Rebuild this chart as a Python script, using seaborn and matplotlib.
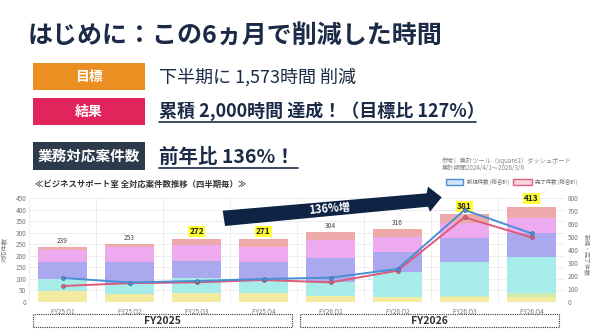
import matplotlib
matplotlib.use("Agg")
import matplotlib.pyplot as plt
import seaborn as sns
import numpy as np
import pandas as pd
from matplotlib.patches import Polygon, Rectangle

sns.set_theme(style="white")
plt.rcParams['font.family'] = ['Noto Sans CJK JP', 'DejaVu Sans']

# ---------------- data ----------------
quarters = ["FY25 Q1", "FY25 Q2", "FY25 Q3", "FY25 Q4",
            "FY26 Q1", "FY26 Q2", "FY26 Q3", "FY26 Q4"]
seg_yellow = [46, 35, 40, 40, 27, 23, 20, 23]
seg_green = [0, 0, 0, 0, 0, 0, 5, 14]
seg_cyan = [54, 41, 62, 55, 58, 108, 150, 159]
seg_purple = [72, 99, 77, 80, 105, 87, 103, 101]
seg_violet = [55, 65, 68, 65, 78, 65, 62, 68]
seg_salmon = [12, 13, 25, 31, 36, 33, 41, 48]
totals = [239, 253, 272, 271, 304, 316, 381, 413]
highlight = [False, False, True, True, False, False, True, True]
new_cases = [185, 150, 162, 177, 187, 254, 708, 528]
done_cases = [123, 145, 151, 169, 151, 241, 651, 497]
left_ticks = [0, 50, 100, 150, 200, 250, 300, 350, 400, 450]
right_ticks = [0, 100, 200, 300, 400, 500, 600, 700, 800]

layers = [("yellow", seg_yellow, "#f4eba3"),
          ("green", seg_green, "#cdeeb0"),
          ("cyan", seg_cyan, "#a8ece9"),
          ("purple", seg_purple, "#aaa8ee"),
          ("violet", seg_violet, "#eeaaee"),
          ("salmon", seg_salmon, "#eeaaaa")]

W, H = 590, 329
fig = plt.figure(figsize=(W / 100, H / 100), dpi=100)
fig.patch.set_facecolor("white")

def fx(x):
    return x / W

def fy(y):
    return 1 - y / H

NAVY = "#1b2b47"

# ---------------- header ----------------
fig.text(fx(28), fy(36), "はじめに：この6ヵ月で削減した時間", fontsize=18,
         fontweight="bold", color=NAVY, va="center", ha="left")

def label_box(y0, y1, color, text, fs=10):
    fig.patches.append(Rectangle((fx(33), fy(y1)), fx(145) - fx(33), fy(y0) - fy(y1),
                                 transform=fig.transFigure, facecolor=color,
                                 edgecolor="none"))
    fig.text(fx(89), fy((y0 + y1) / 2), text, color="white", fontsize=fs,
             fontweight="bold", ha="center", va="center")

label_box(63, 90, "#ec8f22", "目標")
label_box(98, 125, "#e2245c", "結果")
label_box(142, 170, "#2d3a4b", "業務対応案件数", fs=10.5)

fig.text(fx(159), fy(77), "下半期に 1,573時間 削減", fontsize=13, color=NAVY,
         ha="left", va="center")
fig.text(fx(159), fy(111), "累積 2,000時間 達成！（目標比 127%）", fontsize=13,
         color=NAVY, fontweight="bold", ha="left", va="center")
fig.text(fx(159), fy(157), "前年比 136%！", fontsize=14, color=NAVY,
         fontweight="bold", ha="left", va="center")
# underlines
fig.add_artist(plt.Line2D([fx(159), fx(476)], [fy(122), fy(122)], color=NAVY, lw=1.2,
                          transform=fig.transFigure))
fig.add_artist(plt.Line2D([fx(159), fx(298)], [fy(168), fy(168)], color=NAVY, lw=1.2,
                          transform=fig.transFigure))

fig.text(fx(35), fy(184), "≪ビジネスサポート室 全対応案件数推移（四半期毎）≫", fontsize=6,
         color="#333333", fontweight="bold", ha="left", va="center")

fig.text(fx(442), fy(161), "参考）集計ツール（square2）ダッシュボード", fontsize=4.5,
         color="#888888", ha="left", va="center")
fig.text(fx(442), fy(168), "集計期間2024/4/1～2026/3/6", fontsize=4.5,
         color="#888888", ha="left", va="center")

# legend
fig.patches.append(Rectangle((fx(446), fy(184.5)), fx(17), 5.5 / H,
                             transform=fig.transFigure, facecolor="#d4e4f7",
                             edgecolor="#4a8fd6", lw=1))
fig.text(fx(467), fy(182), "新規件数 (総合計)", fontsize=3.9, color="#666666",
         ha="left", va="center")
fig.patches.append(Rectangle((fx(513), fy(184.5)), fx(19), 5.5 / H,
                             transform=fig.transFigure, facecolor="#f7d4de",
                             edgecolor="#e06080", lw=1))
fig.text(fx(535), fy(182), "完了件数 (総合計)", fontsize=3.9, color="#666666",
         ha="left", va="center")

# ---------------- chart ----------------
ax = fig.add_axes([fx(29), fy(302), fx(565) - fx(29), fy(198) - fy(302)])
ax.set_facecolor("white")

cum = np.zeros(len(quarters))
cums = []
for name, vals, col in layers:
    cum = cum + np.array(vals)
    cums.append((cum.copy(), col))
for c, col in reversed(cums):
    sns.barplot(x=quarters, y=c, color=col, width=0.72, ax=ax, saturation=1,
                edgecolor="none", linewidth=0, zorder=2)

ax.set_ylim(0, 450)
ax.set_xlim(-0.5, len(quarters) - 0.5)
ax.set_yticks(left_ticks)
ax.set_yticklabels([str(t) for t in left_ticks])
for t in left_ticks:
    ax.axhline(t, color="#ebebeb", lw=0.6, zorder=0)
for b in np.arange(-0.5, len(quarters), 1.0):
    ax.axvline(b, color="#ebebeb", lw=0.6, zorder=0)
for s in ax.spines.values():
    s.set_visible(False)
ax.tick_params(axis="both", length=0, labelsize=4.6, labelcolor="#777777", pad=2)
ax.tick_params(axis="x", pad=4)
ax.set_ylabel("対応件数", fontsize=4.5, color="#777777")
ax.yaxis.set_label_coords(-0.040, 0.5)
ax.set_xlabel("")

for i, (tot, hl) in enumerate(zip(totals, highlight)):
    if hl:
        ax.text(i, tot + 33, str(tot), ha="center", va="center", fontsize=6,
                fontweight="bold", color="#222222",
                bbox=dict(boxstyle="square,pad=0.12", facecolor="#ffff33",
                          edgecolor="none"), zorder=5)
    else:
        ax.text(i, tot + 26, str(tot), ha="center", va="center", fontsize=4.8,
                color="#444444", zorder=5)

ax2 = ax.twinx()
xs = np.arange(len(quarters))
sns.lineplot(x=xs, y=new_cases, ax=ax2, color="#4a8fd6", lw=1.4, marker="o",
             markersize=2.8, markeredgecolor="#4a6a90", markeredgewidth=0.5,
             sort=False, zorder=4)
sns.lineplot(x=xs, y=done_cases, ax=ax2, color="#dd5a78", lw=1.4, marker="o",
             markersize=2.8, markeredgecolor="#8a5a6a", markeredgewidth=0.5,
             sort=False, zorder=3)
ax2.set_ylim(0, 800)
ax2.set_yticks(right_ticks)
ax2.set_yticklabels([str(t) for t in right_ticks])
ax2.grid(False)
for s in ax2.spines.values():
    s.set_visible(False)
ax2.tick_params(axis="y", length=0, labelsize=4.6, labelcolor="#777777", pad=2)
ax2.set_ylabel("新規・完了件数", fontsize=4.3, color="#777777", rotation=270,
               va="center")
ax2.yaxis.set_label_coords(1.041, 0.45)
ax2.set_xlim(-0.5, len(quarters) - 0.5)

# ---------------- arrow ----------------
arrow_pts = [(222.7, 210.7), (426.7, 193.3), (428, 186.7), (441.7, 197.3),
             (430, 211.7), (428, 206.7), (225, 226)]
fig.patches.append(Polygon([(fx(x), fy(y)) for x, y in arrow_pts], closed=True,
                           transform=fig.transFigure, facecolor="#0f2444",
                           edgecolor="none", zorder=10))
fig.text(fx(329), fy(209), "136%増", fontsize=8, fontweight="bold", color="white",
         ha="center", va="center", rotation=5, zorder=11)

# ---------------- FY boxes ----------------
for x0, x1, lab in [(33, 292, "FY2025"), (300, 559, "FY2026")]:
    fig.patches.append(Rectangle((fx(x0), fy(327)), fx(x1) - fx(x0), fy(314) - fy(327),
                                 transform=fig.transFigure, facecolor="white",
                                 edgecolor="#333333", lw=0.8, linestyle=(0, (1, 1))))
    fig.text(fx((x0 + x1) / 2), fy(320.5), lab, fontsize=7.5, fontweight="bold",
             color="#333333", ha="center", va="center")

fig.savefig("out.png", dpi=100, facecolor="white")
